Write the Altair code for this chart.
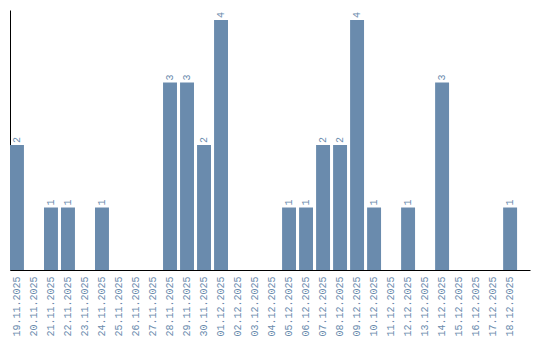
import altair as alt
import pandas as pd

dates = ["19.11.2025", "20.11.2025", "21.11.2025", "22.11.2025", "23.11.2025",
         "24.11.2025", "25.11.2025", "26.11.2025", "27.11.2025", "28.11.2025",
         "29.11.2025", "30.11.2025", "01.12.2025", "02.12.2025", "03.12.2025",
         "04.12.2025", "05.12.2025", "06.12.2025", "07.12.2025", "08.12.2025",
         "09.12.2025", "10.12.2025", "11.12.2025", "12.12.2025", "13.12.2025",
         "14.12.2025", "15.12.2025", "16.12.2025", "17.12.2025", "18.12.2025"]
counts = [2, 0, 1, 1, 0, 1, 0, 0, 0, 3, 3, 2, 4, 0, 0, 0, 1, 1, 2, 2, 4, 1, 0, 1, 0, 3, 0, 0, 0, 1]

df = pd.DataFrame({"date": dates, "count": counts})
COLOR = "#6a8bad"
FONT = "Liberation Mono"

x = alt.X("date:N", sort=dates, title=None,
          scale=alt.Scale(paddingInner=0.18, paddingOuter=0.38, align=0),
          axis=alt.Axis(labelAngle=-90, ticks=False, labelColor=COLOR, labelFont=FONT,
                        labelFontSize=10, labelPadding=6, domainColor="black"))
y = alt.Y("count:Q", title=None, scale=alt.Scale(domain=[0, 4.16], nice=False),
          axis=alt.Axis(labels=False, ticks=False, grid=False, domainColor="black"))

base = alt.Chart(df)
bars = base.mark_bar(color=COLOR).encode(x=x, y=y)
text = base.transform_filter("datum.count > 0").mark_text(
    angle=270, align="left", baseline="middle", dx=2, color=COLOR, font=FONT, fontSize=10
).encode(x=x, y=y, text="count:Q")

chart = (bars + text).properties(
    width=520, height=260,
    autosize=alt.AutoSizeParams(type="none"),
    padding={"left": 10, "top": 10, "right": 10, "bottom": 70},
).configure_view(stroke=None)

chart.save("out.html", embed_options={"renderer": "svg", "actions": False})
